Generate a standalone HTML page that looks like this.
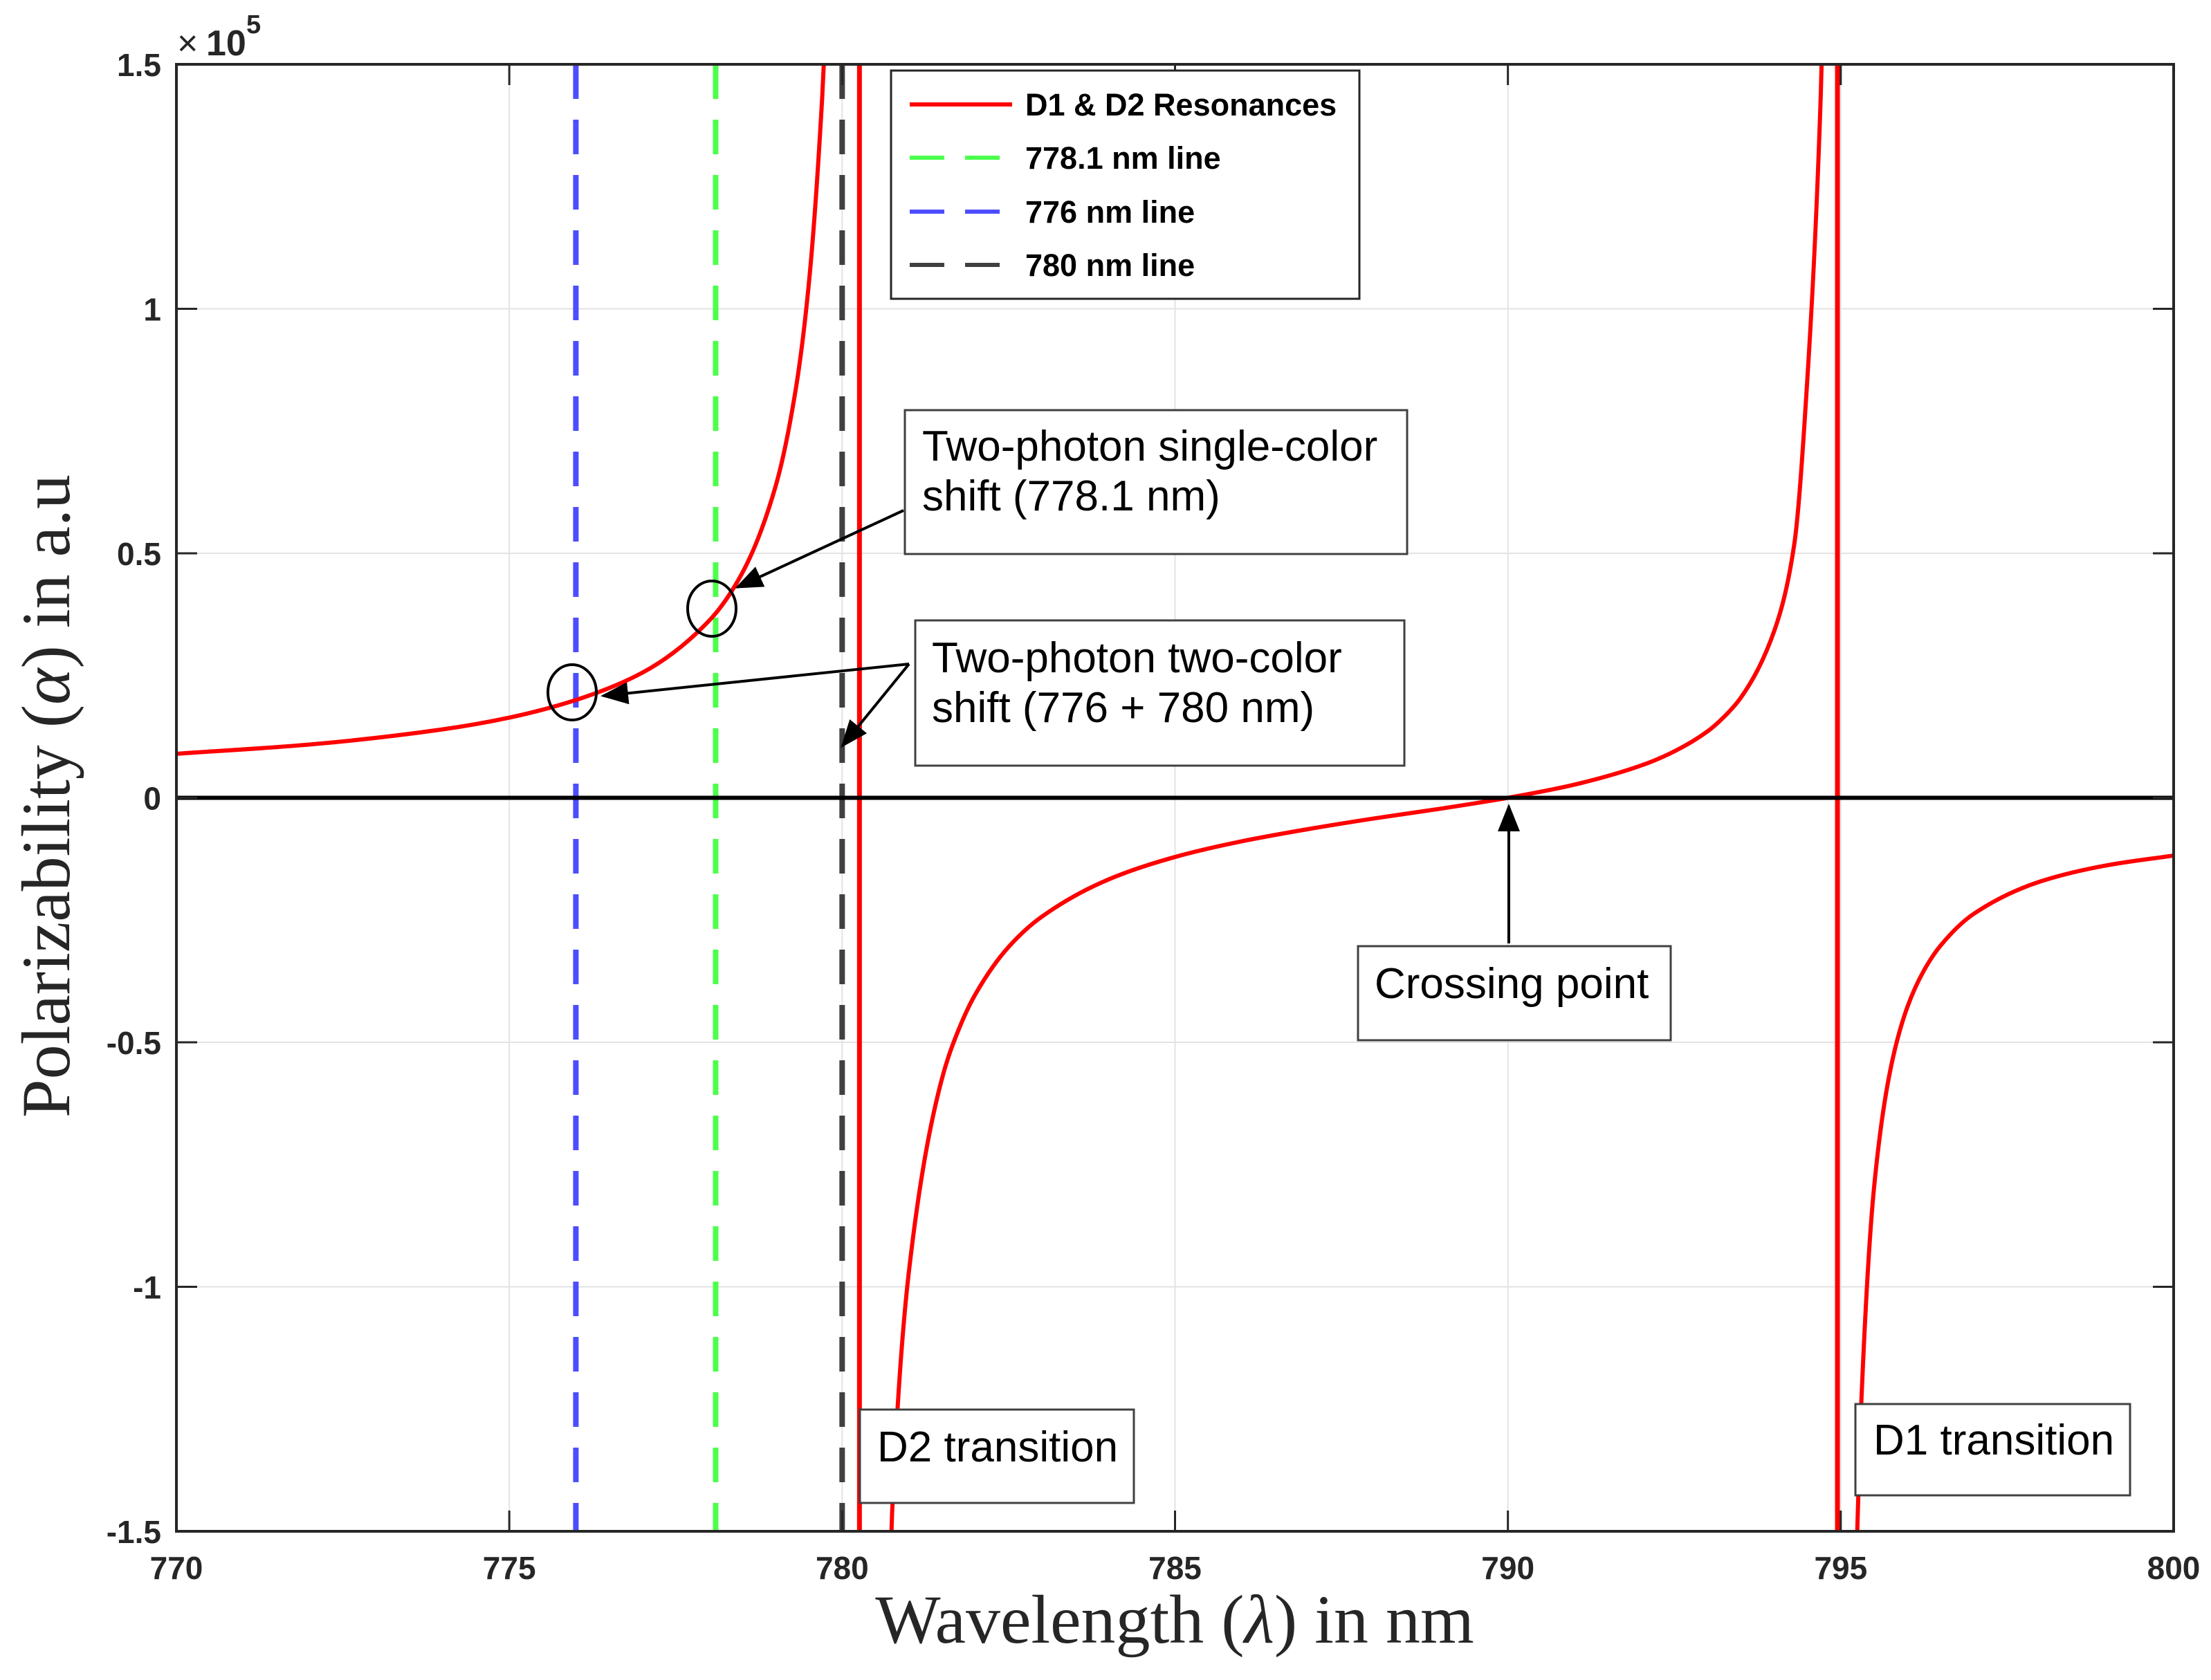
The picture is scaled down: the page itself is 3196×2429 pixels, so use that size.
<!DOCTYPE html>
<html><head><meta charset="utf-8"><style>
html,body{margin:0;padding:0;background:#fff;}
svg{display:block;}
</style></head><body>
<svg id="chart" width="3196" height="2429" xmlns="http://www.w3.org/2000/svg">
<g id="grid"></g>
<g id="plot"></g>
<g id="axes"></g>
</svg>
<script>
const xTicks = [770, 775, 780, 785, 790, 795, 800];
const yTicks = [-1.5, -1, -0.5, 0, 0.5, 1, 1.5];
const yTickLabels = ['-1.5', '-1', '-0.5', '0', '0.5', '1', '1.5'];
// branch 1 (left of D2)
const b1Wavelength = [770, 772, 774, 775, 776, 777, 778, 778.5, 779, 779.3, 779.5, 779.7, 779.75];
const b1Alpha = [0.090, 0.109, 0.140, 0.164, 0.200, 0.256, 0.362, 0.460, 0.637, 0.833, 1.052, 1.432, 1.576];
// branch 2 (between D2 and D1)
const b2Wavelength = [780.73, 780.75, 781, 781.5, 781.75, 782, 782.5, 783, 784, 785, 786, 787, 788, 789, 790, 791, 792, 792.5, 793, 793.25, 793.5, 794, 794.3, 794.5, 794.7, 794.72];
const b2Alpha = [-1.55, -1.463, -0.972, -0.574, -0.474, -0.402, -0.305, -0.243, -0.167, -0.121, -0.089, -0.064, -0.042, -0.022, 0, 0.027, 0.066, 0.095, 0.136, 0.166, 0.205, 0.341, 0.517, 0.861, 1.439, 1.545];
// branch 3 (right of D1)
const b3Wavelength = [795.24, 795.25, 795.3, 795.5, 795.75, 796, 796.25, 796.5, 797, 798, 799, 800];
const b3Alpha = [-1.55, -1.488, -1.264, -0.797, -0.553, -0.428, -0.353, -0.302, -0.237, -0.171, -0.138, -0.118];
const resonanceLines = [780.26, 794.95];
const dashedLines = [776, 778.1, 780];
const dashedColors = ['#4d4dff', '#4dff4d', '#404040'];
const dashedNames = ['line-776nm', 'line-778-1nm', 'line-780nm'];

const NS = 'http://www.w3.org/2000/svg';
const L = 255, R = 3142, T = 93, B = 2214;
const xs = v => L + (v - 770) / 30 * (R - L);
const ys = v => T + (1.5 - v) / 3 * (B - T);
function mk(tag, attrs, parent, text) {
  const e = document.createElementNS(NS, tag);
  for (const k in attrs) e.setAttribute(k, attrs[k]);
  if (text !== undefined) e.textContent = text;
  parent.appendChild(e);
  return e;
}
const grid = document.getElementById('grid');
const plot = document.getElementById('plot');
const axes = document.getElementById('axes');
const svg = document.getElementById('chart');

mk('rect', {x: L, y: T, width: R - L, height: B - T, fill: '#fff'}, grid);
xTicks.forEach(t => {
  const g = mk('line', {x1: xs(t), x2: xs(t), y1: T, y2: B, stroke: '#e3e3e3', 'stroke-width': 2}, grid);
  
  
});
yTicks.forEach(t => {
  const g = mk('line', {x1: L, x2: R, y1: ys(t), y2: ys(t), stroke: '#e3e3e3', 'stroke-width': 2}, grid);
  
  
});

const defs = mk('defs', {}, svg);
const cp = mk('clipPath', {id: 'clip'}, defs);
mk('rect', {x: L, y: T, width: R - L, height: B - T}, cp);
plot.setAttribute('clip-path', 'url(#clip)');

dashedLines.forEach((w, i) => {
  const d = mk('line', {x1: xs(w), x2: xs(w), y1: T, y2: B, stroke: dashedColors[i], 'stroke-width': 8, 'stroke-dasharray': '50 30'}, plot);
  
  
});
resonanceLines.forEach(w => {
  const r = mk('line', {x1: xs(w), x2: xs(w), y1: T, y2: B, stroke: '#ff0000', 'stroke-width': 7}, plot);
  
  
});
function branch(X, Y, name) {
  const n = X.length, dl = [], m = [];
  for (let i = 0; i < n - 1; i++) dl.push((Y[i + 1] - Y[i]) / (X[i + 1] - X[i]));
  m[0] = dl[0]; m[n - 1] = dl[n - 2];
  for (let i = 1; i < n - 1; i++) {
    if (dl[i - 1] * dl[i] <= 0) m[i] = 0;
    else {
      const h0 = X[i] - X[i - 1], h1 = X[i + 1] - X[i];
      const w1 = 2 * h1 + h0, w2 = h1 + 2 * h0;
      m[i] = (w1 + w2) / (w1 / dl[i - 1] + w2 / dl[i]);
    }
  }
  let d = 'M' + xs(X[0]) + ',' + ys(Y[0]);
  for (let i = 0; i < n - 1; i++) {
    const h = X[i + 1] - X[i];
    d += 'C' + xs(X[i] + h / 3) + ',' + ys(Y[i] + m[i] * h / 3) + ' ' +
      xs(X[i + 1] - h / 3) + ',' + ys(Y[i + 1] - m[i + 1] * h / 3) + ' ' +
      xs(X[i + 1]) + ',' + ys(Y[i + 1]);
  }
  const e = mk('path', {d: d, fill: 'none', stroke: '#ff0000', 'stroke-width': 6, 'stroke-linejoin': 'round'}, plot);
  
  
}
branch(b1Wavelength, b1Alpha, 'curve-branch-left');
branch(b2Wavelength, b2Alpha, 'curve-branch-middle');
branch(b3Wavelength, b3Alpha, 'curve-branch-right');
const z = mk('line', {x1: L, x2: R, y1: ys(0), y2: ys(0), stroke: '#000', 'stroke-width': 6}, plot);



const box = mk('rect', {x: L, y: T, width: R - L, height: B - T, fill: 'none', stroke: '#262626', 'stroke-width': 4}, axes);


xTicks.forEach(t => {
  mk('line', {x1: xs(t), x2: xs(t), y1: B, y2: B - 30, stroke: '#262626', 'stroke-width': 3}, axes);
  mk('line', {x1: xs(t), x2: xs(t), y1: T, y2: T + 30, stroke: '#262626', 'stroke-width': 3}, axes);
  const tl = mk('text', {x: xs(t), y: 2283, 'text-anchor': 'middle', 'font-family': 'Liberation Sans, sans-serif', 'font-weight': 'bold', 'font-size': 46, fill: '#262626'}, axes, String(t));
  
  
});
yTicks.forEach((t, i) => {
  mk('line', {x1: L, x2: L + 30, y1: ys(t), y2: ys(t), stroke: '#262626', 'stroke-width': 3}, axes);
  mk('line', {x1: R, x2: R - 30, y1: ys(t), y2: ys(t), stroke: '#262626', 'stroke-width': 3}, axes);
  const tl = mk('text', {x: 233, y: ys(t) + 17, 'text-anchor': 'end', 'font-family': 'Liberation Sans, sans-serif', 'font-weight': 'bold', 'font-size': 46, fill: '#262626'}, axes, yTickLabels[i]);
  
  
});
</script>
<svg style="position:absolute;left:0;top:0" width="3196" height="2429" xmlns="http://www.w3.org/2000/svg">
<defs><marker id="ah" markerWidth="10" markerHeight="8" refX="9" refY="4" orient="auto" markerUnits="strokeWidth"><path d="M0,0 L10,4 L0,8 Z" fill="#000"/></marker></defs>
<g font-family="Liberation Sans, sans-serif" fill="#262626">
<text x="256" y="80" font-size="52">×</text>
<text x="298" y="80" font-size="52" font-weight="bold">10</text>
<text x="356" y="48" font-size="38" font-weight="bold">5</text>
</g>
<text x="1698" y="2375" text-anchor="middle" font-family="Liberation Serif, serif" font-size="100" fill="#262626">Wavelength (<tspan font-style="italic">λ</tspan>) in nm</text>
<text transform="translate(100,1151) rotate(-90)" text-anchor="middle" font-family="Liberation Serif, serif" font-size="100" fill="#262626">Polarizability (<tspan font-style="italic">α</tspan>) in a.u</text>

<g>
<rect x="1288" y="102" width="677" height="330" fill="#fff" stroke="#262626" stroke-width="3"/>
<g font-family="Liberation Sans, sans-serif" font-weight="bold" font-size="45" fill="#000">
<line x1="1315" x2="1463" y1="151" y2="151" stroke="#ff0000" stroke-width="6"/>
<text x="1482" y="167">D1 &amp; D2 Resonances</text>
<line x1="1315" x2="1463" y1="228" y2="228" stroke="#4dff4d" stroke-width="6" stroke-dasharray="50 30"/>
<text x="1482" y="244">778.1 nm line</text>
<line x1="1315" x2="1463" y1="306" y2="306" stroke="#4d4dff" stroke-width="6" stroke-dasharray="50 30"/>
<text x="1482" y="322">776 nm line</text>
<line x1="1315" x2="1463" y1="383" y2="383" stroke="#404040" stroke-width="6" stroke-dasharray="50 30"/>
<text x="1482" y="399">780 nm line</text>
</g></g>

<g font-family="Liberation Sans, sans-serif" font-size="62" fill="#000">
<g>
<rect x="1308" y="593" width="726" height="208" fill="#fff" stroke="#404040" stroke-width="3"/>
<text x="1333" y="666">Two-photon single-color</text>
<text x="1333" y="738">shift (778.1 nm)</text>
</g>
<g>
<rect x="1323" y="897" width="707" height="210" fill="#fff" stroke="#404040" stroke-width="3"/>
<text x="1347" y="972">Two-photon two-color</text>
<text x="1347" y="1044">shift (776 + 780 nm)</text>
</g>
<g>
<rect x="1963" y="1368" width="452" height="136" fill="#fff" stroke="#404040" stroke-width="3"/>
<text x="1987" y="1443">Crossing point</text>
</g>
<g>
<rect x="1243" y="2038" width="396" height="135" fill="#fff" stroke="#404040" stroke-width="3"/>
<text x="1268" y="2113">D2 transition</text>
</g>
<g>
<rect x="2682" y="2030" width="397" height="132" fill="#fff" stroke="#404040" stroke-width="3"/>
<text x="2708" y="2103">D1 transition</text>
</g>
</g>
<ellipse cx="1029" cy="880" rx="35" ry="40" fill="none" stroke="#000" stroke-width="4"/>
<ellipse cx="827" cy="1001" rx="35" ry="40" fill="none" stroke="#000" stroke-width="4"/>
<g stroke="#000" stroke-width="4" fill="none">
<line x1="1306" y1="738" x2="1066" y2="849" marker-end="url(#ah)"/>
<line x1="1314" y1="960" x2="872" y2="1006" marker-end="url(#ah)"/>
<line x1="1314" y1="960" x2="1218" y2="1078" marker-end="url(#ah)"/>
<line x1="2181" y1="1364" x2="2181" y2="1166" marker-end="url(#ah)"/>
</g>
</svg>
</body></html>
